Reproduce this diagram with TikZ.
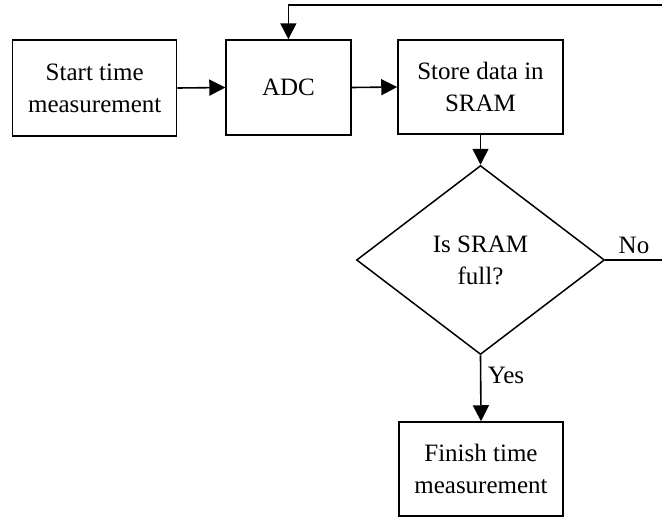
\documentclass[tikz,border=0pt]{standalone}
\usepackage{fontspec}
\setmainfont{Liberation Serif}
\usetikzlibrary{shapes.geometric,arrows.meta}
\begin{document}
\begin{tikzpicture}[x=1pt,y=-1pt,
  box/.style={draw,line width=1.5pt,inner sep=0pt,align=center,font=\fontsize{25}{32}\selectfont},
  flow/.style={line width=1.6pt,-{Triangle[length=16pt,width=16pt]}},
  lbl/.style={font=\fontsize{25}{30}\selectfont,inner sep=0pt}]
\useasboundingbox (0,0) rectangle (662,517);
\node[box,minimum width=164pt,minimum height=96pt] (start) at (94.7,88) {Start time\\measurement};
\node[box,minimum width=124.7pt,minimum height=95pt] (adc) at (288.4,87.5) {ADC};
\node[box,minimum width=165pt,minimum height=94pt] (store) at (480.5,87) {Store data in\\SRAM};
\node[box,diamond,minimum width=248pt,minimum height=189pt] (dia) at (480.5,260) {Is SRAM\\full?};
\node[box,minimum width=164pt,minimum height=94pt] (fin) at (481,469) {Finish time\\measurement};
\coordinate (rt) at (665,5);
\draw[flow] (start.east) -- (adc.west);
\draw[flow] (adc.east) -- (store.west);
\draw[flow] (store.south) -- (dia.north);
\draw[flow] (dia.south) -- (fin.north);
\draw[flow] (dia.east) -- (dia.east -| rt) -- (rt) -| (adc.north);
\node[lbl] (no) at (634,245) {No};
\node[lbl] (yes) at (506,375) {Yes};
\end{tikzpicture}
\end{document}
